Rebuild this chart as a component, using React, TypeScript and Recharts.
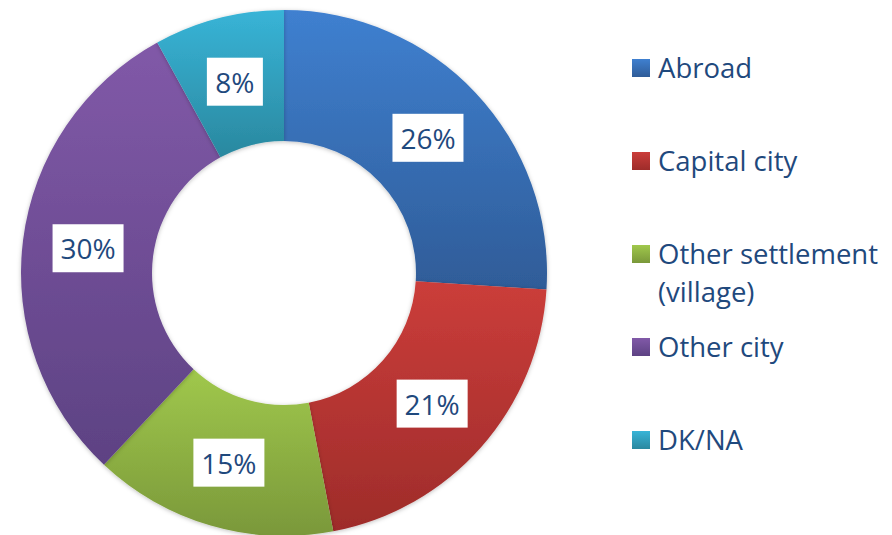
import React from "react";
import { PieChart, Pie, Cell, Legend } from "recharts";

const categories = ["Abroad", "Capital city", "Other settlement (village)", "Other city", "DK/NA"];
const values = [26, 21, 15, 30, 8];
const labels = ["26%", "21%", "15%", "30%", "8%"];
const topColors = ["#3f80d0", "#cb3d3a", "#a0c84c", "#8159a8", "#38b4d7"];
const bottomColors = ["#2f5c98", "#9e2c2a", "#7a983a", "#5d4283", "#2a889f"];

const data = categories.map((name, i) => ({ name, value: values[i], label: labels[i] }));

const TEXT = "#1F497D";
const FONT = "'Open Sans', sans-serif";

const RAD = Math.PI / 180;

const renderLabel = (props: any) => {
  const { cx, cy, midAngle, innerRadius, outerRadius, index } = props;
  const r = (innerRadius + outerRadius) / 2;
  const x = cx + r * Math.cos(-midAngle * RAD);
  const y = cy + r * Math.sin(-midAngle * RAD);
  const t = labels[index];
  const w = 15 * t.length + 26;
  const h = 48;
  return (
    <g>
      <rect x={x - w / 2} y={y - h / 2} width={w} height={h} fill="#ffffff" />
      <text x={x} y={y} fill={TEXT} fontSize={28} fontFamily={FONT} textAnchor="middle" dominantBaseline="central">
        {t}
      </text>
    </g>
  );
};

const LegendContent = () => {
  const rowTops = [68, 161, 254, 347, 440];
  return (
    <div style={{ position: "relative", width: 260, height: 535 }}>
      {categories.map((c, i) => (
        <div key={c} style={{ position: "absolute", left: 0, top: rowTops[i] - 19, display: "flex", alignItems: "flex-start" }}>
          <div
            style={{
              width: 18,
              height: 18,
              marginTop: 10,
              marginRight: 8,
              background: `linear-gradient(${topColors[i]}, ${bottomColors[i]})`,
            }}
          />
          <div style={{ fontFamily: FONT, fontSize: 27.5, color: TEXT, lineHeight: "38px", width: 240, whiteSpace: "nowrap" }}>
            {i === 2 ? (
              <>
                Other settlement
                <br />
                (village)
              </>
            ) : (
              c
            )}
          </div>
        </div>
      ))}
    </div>
  );
};

export default function App() {
  return (
    <div style={{ position: "absolute", left: 0, top: 0, width: 892, height: 535, background: "#fff" }}>
      <PieChart width={892} height={535} margin={{ top: 0, right: 0, bottom: 0, left: 0 }}>
        <defs>
          {topColors.map((c, i) => (
            <linearGradient key={i} id={`g${i}`} x1="0" y1="0" x2="0" y2="1">
              <stop offset="0%" stopColor={c} />
              <stop offset="100%" stopColor={bottomColors[i]} />
            </linearGradient>
          ))}
          <filter id="shadow" x="-10%" y="-10%" width="120%" height="120%">
            <feDropShadow dx="0" dy="1" stdDeviation="2" floodColor="#000" floodOpacity="0.25" />
          </filter>
        </defs>
        <Pie
          data={data}
          dataKey="value"
          nameKey="name"
          cx={284}
          cy={273}
          innerRadius={132}
          outerRadius={263}
          startAngle={90}
          endAngle={-270}
          stroke="none"
          label={renderLabel}
          labelLine={false}
          isAnimationActive={false}
          style={{ filter: "url(#shadow)" }}
        >
          {data.map((d, i) => (
            <Cell key={d.name} fill={`url(#g${i})`} />
          ))}
        </Pie>
        <Legend
          layout="vertical"
          align="right"
          verticalAlign="top"
          content={<LegendContent />}
          wrapperStyle={{ left: 632, top: 0, width: 260, height: 535 }}
        />
      </PieChart>
    </div>
  );
}
